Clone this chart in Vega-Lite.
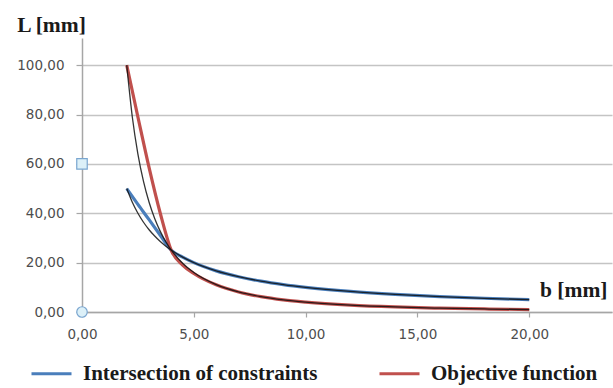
{
  "$schema": "https://vega.github.io/schema/vega-lite/v6.json",
  "width": 530,
  "height": 274,
  "autosize": {"type": "none"},
  "padding": {"left": 82, "top": 38, "right": 1, "bottom": 76},
  "background": "white",
  "config": {
    "view": {"stroke": null},
    "axis": {
      "labelFont": "DejaVu Sans",
      "labelFontSize": 13.5,
      "labelColor": "#4d4d4d",
      "labelFlush": false,
      "domain": true,
      "domainColor": "#a6a6a6",
      "domainWidth": 1.5,
      "tickColor": "#a6a6a6",
      "tickWidth": 1.2,
      "gridColor": "#c4c4c4",
      "gridWidth": 1.5,
      "titleFont": "Liberation Serif",
      "titleFontWeight": "bold",
      "titleFontSize": 21.5,
      "titleColor": "#1a1a1a"
    }
  },
  "datasets": {
    "colored": [
      {"b": 2, "L": 50, "s": "Intersection of constraints"},
      {"b": 2.5, "L": 43.6, "s": "Intersection of constraints"},
      {"b": 3, "L": 37.4, "s": "Intersection of constraints"},
      {"b": 3.5, "L": 31.1, "s": "Intersection of constraints"},
      {"b": 4, "L": 25, "s": "Intersection of constraints"},
      {"b": 4.5, "L": 22.2, "s": "Intersection of constraints"},
      {"b": 5, "L": 20, "s": "Intersection of constraints"},
      {"b": 6, "L": 16.67, "s": "Intersection of constraints"},
      {"b": 7, "L": 14.29, "s": "Intersection of constraints"},
      {"b": 8, "L": 12.5, "s": "Intersection of constraints"},
      {"b": 9, "L": 11.11, "s": "Intersection of constraints"},
      {"b": 10, "L": 10, "s": "Intersection of constraints"},
      {"b": 12, "L": 8.33, "s": "Intersection of constraints"},
      {"b": 14, "L": 7.14, "s": "Intersection of constraints"},
      {"b": 16, "L": 6.25, "s": "Intersection of constraints"},
      {"b": 18, "L": 5.56, "s": "Intersection of constraints"},
      {"b": 20, "L": 5, "s": "Intersection of constraints"},
      {"b": 2, "L": 100, "s": "Objective function"},
      {"b": 2.5, "L": 79, "s": "Objective function"},
      {"b": 3, "L": 58.5, "s": "Objective function"},
      {"b": 3.5, "L": 40, "s": "Objective function"},
      {"b": 4, "L": 24.8, "s": "Objective function"},
      {"b": 4.5, "L": 19, "s": "Objective function"},
      {"b": 5, "L": 15.6, "s": "Objective function"},
      {"b": 6, "L": 11, "s": "Objective function"},
      {"b": 7, "L": 8.1, "s": "Objective function"},
      {"b": 8, "L": 6.2, "s": "Objective function"},
      {"b": 9, "L": 4.9, "s": "Objective function"},
      {"b": 10, "L": 4, "s": "Objective function"},
      {"b": 12, "L": 2.78, "s": "Objective function"},
      {"b": 14, "L": 2.04, "s": "Objective function"},
      {"b": 16, "L": 1.56, "s": "Objective function"},
      {"b": 18, "L": 1.23, "s": "Objective function"},
      {"b": 20, "L": 1, "s": "Objective function"}
    ],
    "exact": [
      {"b": 2, "L": 50, "c": "A"},
      {"b": 2.25, "L": 44.44, "c": "A"},
      {"b": 2.5, "L": 40, "c": "A"},
      {"b": 2.75, "L": 36.36, "c": "A"},
      {"b": 3, "L": 33.33, "c": "A"},
      {"b": 3.25, "L": 30.77, "c": "A"},
      {"b": 3.5, "L": 28.57, "c": "A"},
      {"b": 3.75, "L": 26.67, "c": "A"},
      {"b": 4, "L": 25, "c": "A"},
      {"b": 4.5, "L": 22.22, "c": "A"},
      {"b": 5, "L": 20, "c": "A"},
      {"b": 6, "L": 16.67, "c": "A"},
      {"b": 7, "L": 14.29, "c": "A"},
      {"b": 8, "L": 12.5, "c": "A"},
      {"b": 9, "L": 11.11, "c": "A"},
      {"b": 10, "L": 10, "c": "A"},
      {"b": 12, "L": 8.33, "c": "A"},
      {"b": 14, "L": 7.14, "c": "A"},
      {"b": 16, "L": 6.25, "c": "A"},
      {"b": 18, "L": 5.56, "c": "A"},
      {"b": 20, "L": 5, "c": "A"},
      {"b": 2, "L": 100, "c": "B"},
      {"b": 2.25, "L": 79.01, "c": "B"},
      {"b": 2.5, "L": 64, "c": "B"},
      {"b": 2.75, "L": 52.89, "c": "B"},
      {"b": 3, "L": 44.44, "c": "B"},
      {"b": 3.25, "L": 37.87, "c": "B"},
      {"b": 3.5, "L": 32.65, "c": "B"},
      {"b": 3.75, "L": 28.44, "c": "B"},
      {"b": 4, "L": 25, "c": "B"},
      {"b": 4.5, "L": 19.75, "c": "B"},
      {"b": 5, "L": 16, "c": "B"},
      {"b": 6, "L": 11.11, "c": "B"},
      {"b": 7, "L": 8.16, "c": "B"},
      {"b": 8, "L": 6.25, "c": "B"},
      {"b": 9, "L": 4.94, "c": "B"},
      {"b": 10, "L": 4, "c": "B"},
      {"b": 12, "L": 2.78, "c": "B"},
      {"b": 14, "L": 2.04, "c": "B"},
      {"b": 16, "L": 1.56, "c": "B"},
      {"b": 18, "L": 1.23, "c": "B"},
      {"b": 20, "L": 1, "c": "B"}
    ],
    "markers": [
      {"b": 0, "L": 60, "m": "square"},
      {"b": 0, "L": 0, "m": "circle"}
    ],
    "axisline": [
      {"b": 0}
    ]
  },
  "encoding": {
    "x": {
      "field": "b",
      "type": "quantitative",
      "scale": {"domain": [0, 23.7], "nice": false, "zero": false},
      "axis": {
        "values": [0, 5, 10, 15, 20],
        "grid": false,
        "domain": true,
        "tickSize": 5,
        "labelPadding": 10,
        "labelFlush": false,
        "labelExpr": "replace(format(datum.value, '.2f'), '.', ',')",
        "title": "b [mm]",
        "titleAlign": "right",
        "titleAnchor": null,
        "titleX": 525,
        "titleY": -16,
        "titleBaseline": "alphabetic"
      }
    },
    "y": {
      "field": "L",
      "type": "quantitative",
      "scale": {"domain": [0, 111], "nice": false, "zero": false},
      "axis": {
        "values": [0, 20, 40, 60, 80, 100],
        "grid": true,
        "domain": true,
        "tickSize": 6,
        "labelPadding": 12,
        "labelFlush": false,
        "labelExpr": "replace(format(datum.value, '.2f'), '.', ',')",
        "title": "L [mm]",
        "titleAngle": 0,
        "titleAlign": "center",
        "titleAnchor": null,
        "titleX": -31,
        "titleY": -7,
        "titleBaseline": "alphabetic"
      }
    }
  },
  "layer": [
    {
      "data": {"name": "axisline"},
      "mark": {"type": "rule", "color": "#a6a6a6", "strokeWidth": 1.5},
      "encoding": {
        "x": {"field": "b", "type": "quantitative"}
      }
    },
    {
      "data": {"name": "colored"},
      "mark": {"type": "line", "interpolate": "monotone", "strokeWidth": 3.2},
      "encoding": {
        "color": {
          "field": "s",
          "type": "nominal",
          "scale": {
            "domain": ["Intersection of constraints", "Objective function"],
            "range": ["#4a7ebb", "#c0504d"]
          },
          "legend": {
            "title": null,
            "orient": "none",
            "direction": "horizontal",
            "legendX": -52,
            "legendY": 314,
            "symbolType": "stroke",
            "symbolSize": 1600,
            "symbolStrokeWidth": 3,
            "labelFont": "Liberation Serif",
            "labelFontWeight": "bold",
            "labelFontSize": 21,
            "labelColor": "#1a1a1a",
            "labelOffset": 10,
            "labelLimit": 400,
            "columnPadding": 55
          }
        }
      }
    },
    {
      "data": {"name": "exact"},
      "mark": {"type": "line", "interpolate": "monotone", "strokeWidth": 1.3, "color": "#111111", "opacity": 0.85},
      "encoding": {
        "detail": {"field": "c", "type": "nominal"}
      }
    },
    {
      "data": {"name": "markers"},
      "mark": {"type": "point", "filled": true, "fill": "#dcf0f8", "stroke": "#7aa6d0", "strokeWidth": 1.2, "size": 110, "opacity": 1},
      "encoding": {
        "shape": {"field": "m", "type": "nominal", "scale": null}
      }
    }
  ]
}
